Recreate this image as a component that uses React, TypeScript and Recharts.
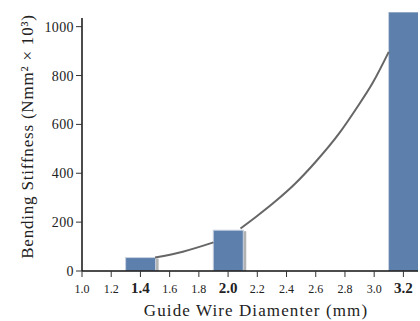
import React from 'react';
import { ComposedChart, Bar, Line, XAxis, YAxis, ReferenceLine } from 'recharts';

if (typeof document !== 'undefined') {
  document.body.style.margin = '0';
}

const diameters = [1.4, 2.0, 3.2];
const stiffness = [55, 167, 1060];

// fitted curve; null where it passes behind the 2.0 bar
const curveX = [1.5, 1.69, 1.9, 2.0, 2.085, 2.19, 2.32, 2.46, 2.6, 2.76, 2.87, 2.99, 3.1];
const curveY: (number | null)[] = [55, 79, 117, null, 174, 221, 283, 358, 447, 563, 658, 770, 897];

const xTicks = [1.0, 1.2, 1.4, 1.6, 1.8, 2.0, 2.2, 2.4, 2.6, 2.8, 3.0, 3.2];
const yTicks = [0, 200, 400, 600, 800, 1000];
const boldTicks = [1.4, 2.0, 3.2];
const yAxisTop = 1035;

const barData = diameters.map((d, i) => ({ x: d, v: stiffness[i] }));
const curveData = curveX.map((d, i) => ({ x: d, c: curveY[i] }));

const FONT = '"Liberation Serif", "DejaVu Serif", serif';
const X_DOMAIN: [number, number] = [1.0, 3.3];

const BarShape = (props: any) => {
  const { x, y, width, height } = props;
  if (width == null || height == null) return null;
  return (
    <g>
      <rect x={x + 3} y={y + 1} width={width} height={height - 1} fill="#b2b2b2" />
      <rect x={x} y={y} width={width} height={height} fill="#5c7fab" stroke="#c8d2e0" strokeWidth={1} />
    </g>
  );
};

const XTick = (props: any) => {
  const { x, y, payload } = props;
  const v = Number(payload.value);
  const bold = boldTicks.some((b) => Math.abs(b - v) < 1e-6);
  return (
    <text
      x={x}
      y={y + 14}
      textAnchor="middle"
      fontFamily={FONT}
      fontSize={bold ? 15 : 12}
      fontWeight={bold ? 'bold' : 'normal'}
      fill="#222"
    >
      {v.toFixed(1)}
    </text>
  );
};

const YTick = (props: any) => {
  const { x, y, payload } = props;
  return (
    <text x={x} y={y + 5} textAnchor="end" fontFamily={FONT} fontSize={14} letterSpacing={0.4} fill="#222">
      {payload.value}
    </text>
  );
};

export default function App() {
  return (
    <ComposedChart
      width={420}
      height={321}
      data={barData}
      margin={{ top: 12, right: 2, bottom: 20, left: 32 }}
    >
      <XAxis
        xAxisId="bars"
        dataKey="x"
        type="number"
        domain={X_DOMAIN}
        ticks={xTicks}
        tick={<XTick />}
        tickLine={{ stroke: '#333' }}
        axisLine={{ stroke: '#111', strokeWidth: 1.5 }}
        tickSize={6}
        height={30}
        allowDataOverflow
        label={{
          value: 'Guide Wire Diamenter (mm)',
          position: 'insideBottom',
          offset: -15,
          dx: 6,
          fontFamily: FONT,
          fontSize: 17,
          letterSpacing: 1.1,
          fill: '#222',
        }}
      />
      <XAxis
        xAxisId="curve"
        dataKey="x"
        type="number"
        domain={X_DOMAIN}
        hide
        allowDataOverflow
      />
      <YAxis
        type="number"
        domain={[0, 1060]}
        ticks={yTicks}
        tick={<YTick />}
        tickLine={{ stroke: '#333' }}
        axisLine={false}
        tickSize={6}
        width={50}
        allowDataOverflow
        label={{
          value: 'Bending Stiffness (Nmm² × 10³)',
          angle: -90,
          position: 'insideLeft',
          offset: -5,
          dy: -5,
          fontFamily: FONT,
          fontSize: 17,
          letterSpacing: 0.8,
          fill: '#222',
          style: { textAnchor: 'middle' },
        }}
      />
      <ReferenceLine
        xAxisId="bars"
        segment={[
          { x: X_DOMAIN[0], y: 0 },
          { x: X_DOMAIN[0], y: yAxisTop },
        ]}
        stroke="#111"
        strokeWidth={1.5}
      />
      <Line
        xAxisId="curve"
        data={curveData}
        dataKey="c"
        type="monotone"
        stroke="#666"
        strokeWidth={2}
        dot={false}
        activeDot={false}
        connectNulls={false}
        isAnimationActive={false}
      />
      <Bar
        xAxisId="bars"
        dataKey="v"
        barSize={30}
        shape={<BarShape />}
        isAnimationActive={false}
      />
    </ComposedChart>
  );
}
